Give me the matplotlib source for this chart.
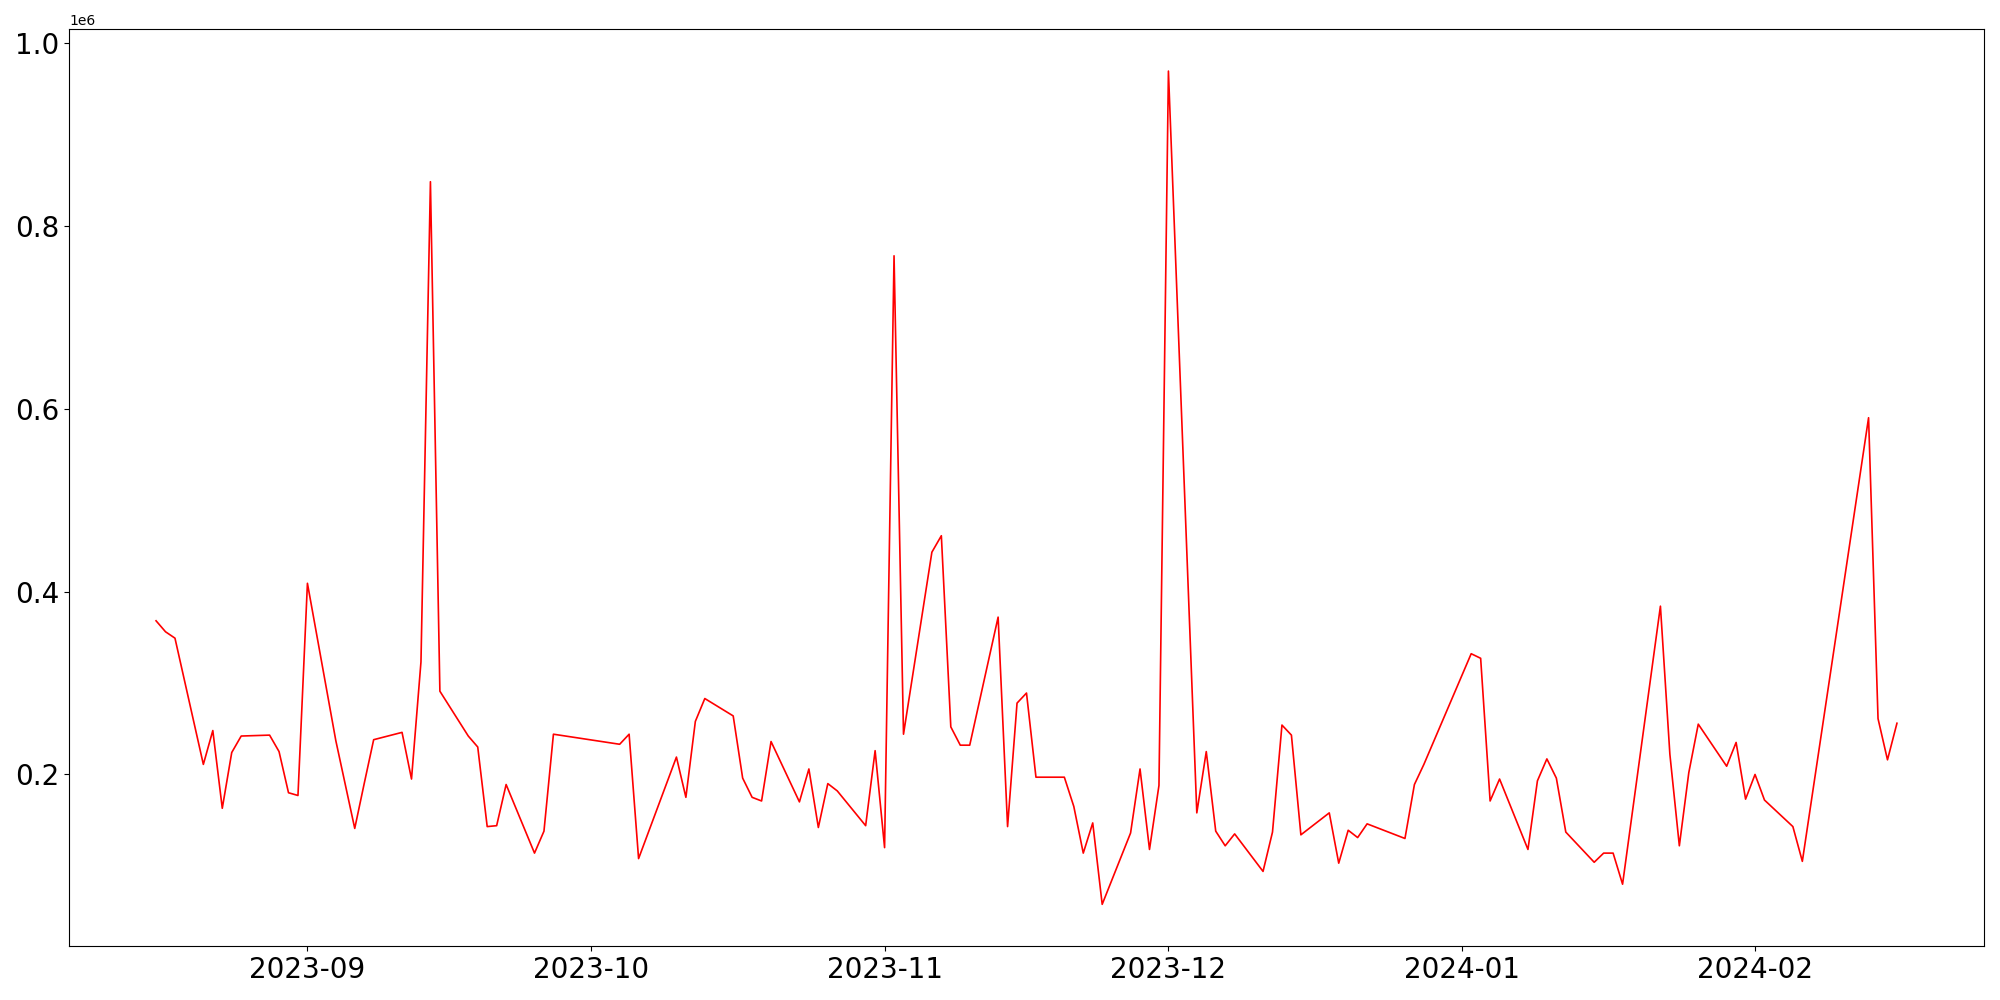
import matplotlib
matplotlib.use("Agg")
import matplotlib.pyplot as plt
import pandas as pd

dates = [
    "2023-08-16", "2023-08-17", "2023-08-18", "2023-08-21", "2023-08-22", "2023-08-23",
    "2023-08-24", "2023-08-25", "2023-08-28", "2023-08-29", "2023-08-30", "2023-08-31",
    "2023-09-01", "2023-09-04", "2023-09-06", "2023-09-07", "2023-09-08", "2023-09-11",
    "2023-09-12", "2023-09-13", "2023-09-14", "2023-09-15", "2023-09-18", "2023-09-19",
    "2023-09-20", "2023-09-21", "2023-09-22", "2023-09-25", "2023-09-26", "2023-09-27",
    "2023-10-04", "2023-10-05", "2023-10-06", "2023-10-10", "2023-10-11", "2023-10-12",
    "2023-10-13", "2023-10-16", "2023-10-17", "2023-10-18", "2023-10-19", "2023-10-20",
    "2023-10-23", "2023-10-24", "2023-10-25", "2023-10-26", "2023-10-27", "2023-10-30",
    "2023-10-31", "2023-11-01", "2023-11-02", "2023-11-03", "2023-11-06", "2023-11-07",
    "2023-11-08", "2023-11-09", "2023-11-10", "2023-11-13", "2023-11-14", "2023-11-15",
    "2023-11-16", "2023-11-17", "2023-11-20", "2023-11-21", "2023-11-22", "2023-11-23",
    "2023-11-24", "2023-11-27", "2023-11-28", "2023-11-29", "2023-11-30", "2023-12-01",
    "2023-12-04", "2023-12-05", "2023-12-06", "2023-12-07", "2023-12-08", "2023-12-11",
    "2023-12-12", "2023-12-13", "2023-12-14", "2023-12-15", "2023-12-18", "2023-12-19",
    "2023-12-20", "2023-12-21", "2023-12-22", "2023-12-26", "2023-12-27", "2023-12-28",
    "2024-01-02", "2024-01-03", "2024-01-04", "2024-01-05", "2024-01-08", "2024-01-09",
    "2024-01-10", "2024-01-11", "2024-01-12", "2024-01-15", "2024-01-16", "2024-01-17",
    "2024-01-18", "2024-01-22", "2024-01-23", "2024-01-24", "2024-01-25", "2024-01-26",
    "2024-01-29", "2024-01-30", "2024-01-31", "2024-02-01", "2024-02-02", "2024-02-05",
    "2024-02-06", "2024-02-13", "2024-02-14", "2024-02-15", "2024-02-16",
]

volume = [
    368000, 356000, 349000, 211000, 248000, 163000,
    224000, 242000, 243000, 225000, 180000, 177000,
    409000, 237000, 141000, 190000, 238000, 246000,
    195000, 323000, 848000, 291000, 242000, 230000,
    143000, 144000, 189000, 114000, 138000, 244000,
    233000, 244000, 108000, 219000, 175000, 258000,
    283000, 264000, 196000, 175000, 171000, 236000,
    170000, 206000, 142000, 190000, 182000, 144000,
    226000, 120000, 767000, 244000, 443000, 461000,
    252000, 232000, 232000, 372000, 143000, 278000,
    289000, 197000, 197000, 165000, 114000, 147000,
    58000, 136000, 206000, 118000, 188000, 969000,
    158000, 225000, 138000, 122000, 135000, 94000,
    137000, 254000, 243000, 134000, 158000, 103000,
    139000, 131000, 146000, 130000, 189000, 211000,
    332000, 327000, 171000, 195000, 118000, 193000,
    217000, 196000, 137000, 104000, 114000, 114000,
    80000, 384000, 222000, 122000, 202000, 255000,
    209000, 235000, 173000, 200000, 172000, 143000,
    105000, 590000, 261000, 216000, 256000,
]

x = pd.to_datetime(dates)

fig = plt.figure(figsize=(20, 10), dpi=100)
ax = fig.add_axes([0.0345, 0.054, 0.9575, 0.9166])
ax.plot(x, volume, color="red", linewidth=1.2)

plt.xticks(fontsize=20)
plt.yticks(fontsize=20)

fig.savefig("out.png", dpi=100)
